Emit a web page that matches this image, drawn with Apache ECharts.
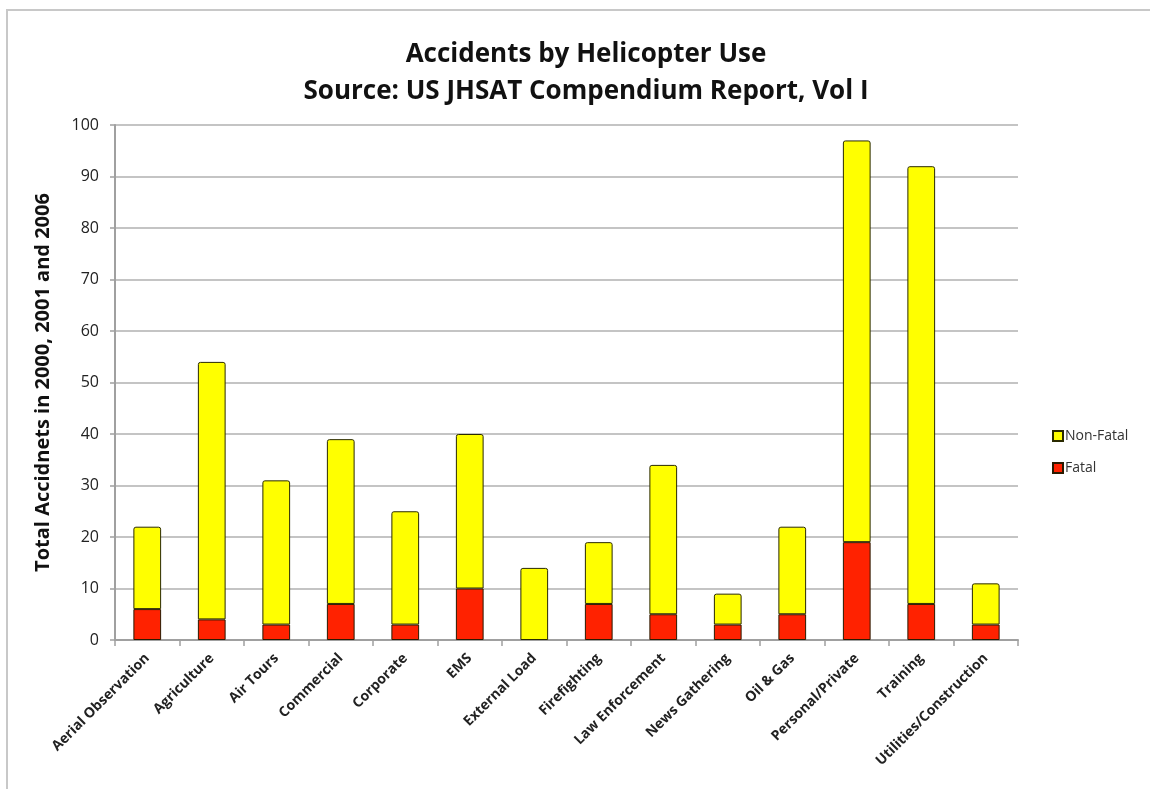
<!DOCTYPE html>
<html>
<head>
<meta charset="utf-8">
<script src="https://cdn.jsdelivr.net/npm/echarts@6/dist/echarts.min.js"></script>
<style>
  html, body { margin: 0; padding: 0; background: #fff; overflow: hidden; }
  #chart { width: 1150px; height: 789px; }
</style>
</head>
<body>
<div id="chart"></div>
<script>
// Helicopter accident counts by use category (2000, 2001 and 2006)
const categories = [
  'Aerial Observation', 'Agriculture', 'Air Tours', 'Commercial', 'Corporate',
  'EMS', 'External Load', 'Firefighting', 'Law Enforcement', 'News Gathering',
  'Oil & Gas', 'Personal/Private', 'Training', 'Utilities/Construction'
];
const fatal    = [6, 4, 3, 7, 3, 10, 0, 7, 5, 3, 5, 19, 7, 3];
const nonFatal = [16, 50, 28, 32, 22, 30, 14, 12, 29, 6, 17, 78, 85, 8];
const yTicks = [0, 10, 20, 30, 40, 50, 60, 70, 80, 90, 100];

const FONT = "'Open Sans', 'Liberation Sans', sans-serif";

// A zero-height segment should not leave an outline behind
function segments(values) {
  return values.map(v => (v === 0 ? { value: 0, itemStyle: { borderWidth: 0 } } : v));
}

const chart = echarts.init(document.getElementById('chart'), null, { renderer: 'canvas' });
chart.setOption({
  backgroundColor: '#ffffff',
  animation: false,
  textStyle: { fontFamily: FONT },
  graphic: [{
    type: 'rect',
    shape: { x: 7, y: 10, width: 1200, height: 820 },
    style: { fill: 'none', stroke: '#c8c8c8', lineWidth: 2 },
    silent: true
  }],
  title: {
    text: 'Accidents by Helicopter Use\nSource: US JHSAT Compendium Report, Vol I',
    left: 581,
    textAlign: 'center',
    top: 31,
    textStyle: {
      fontFamily: FONT,
      fontSize: 26,
      fontWeight: 'bold',
      color: '#111',
      lineHeight: 37
    }
  },
  legend: {
    orient: 'vertical',
    left: 1047,
    top: 424,
    itemGap: 18,
    itemWidth: 10,
    itemHeight: 10,
    icon: 'rect',
    data: ['Non-Fatal', 'Fatal'],
    textStyle: { fontFamily: FONT, fontSize: 14, color: '#333', padding: [0, 0, 0, -3] }
  },
  grid: { left: 115, right: 132, top: 125, bottom: 149, containLabel: false },
  xAxis: {
    type: 'category',
    data: categories,
    axisLine: { lineStyle: { color: '#a0a0a0', width: 2 } },
    axisTick: { show: true, alignWithLabel: false, length: 6, lineStyle: { color: '#a0a0a0', width: 1.5 } },
    axisLabel: {
      rotate: 45,
      interval: 0,
      margin: 16,
      fontFamily: FONT,
      fontSize: 14,
      fontWeight: 'bold',
      color: '#222'
    }
  },
  yAxis: {
    type: 'value',
    min: yTicks[0],
    max: yTicks[yTicks.length - 1],
    interval: 10,
    name: 'Total Accidnets in 2000, 2001 and 2006',
    nameLocation: 'middle',
    nameGap: 62,
    nameRotate: 90,
    nameTextStyle: { fontFamily: FONT, fontSize: 20, fontWeight: 'bold', color: '#111' },
    axisLine: { show: true, lineStyle: { color: '#a0a0a0', width: 2 } },
    axisTick: { show: true, length: 5, lineStyle: { color: '#a0a0a0', width: 1.5 } },
    axisLabel: { fontFamily: FONT, fontSize: 16, color: '#222', margin: 16 },
    splitLine: { lineStyle: { color: '#c4c4c4', width: 2 } }
  },
  series: [
    {
      name: 'Fatal',
      type: 'bar',
      stack: 'total',
      barWidth: '43%',
      data: segments(fatal),
      itemStyle: { color: '#ff2200', borderColor: '#2a1a00', borderWidth: 1 }
    },
    {
      name: 'Non-Fatal',
      type: 'bar',
      stack: 'total',
      barWidth: '43%',
      data: segments(nonFatal),
      itemStyle: { color: '#ffff00', borderColor: '#2a2a00', borderWidth: 1, borderRadius: [2, 2, 0, 0] }
    }
  ]
});
</script>
</body>
</html>
